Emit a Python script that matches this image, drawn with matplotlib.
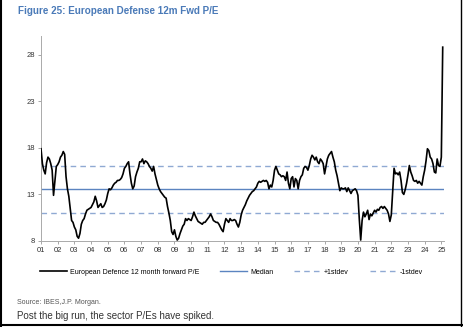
import matplotlib
matplotlib.use("Agg")
import matplotlib.pyplot as plt
from matplotlib.lines import Line2D
import numpy as np

plt.rcParams['font.family'] = ['Liberation Sans', 'DejaVu Sans']

# monthly 12m fwd P/E, Jan 2001 .. Feb 2025
pe_2001 = [17.9, 16.3, 15.6, 15.2, 16.4, 17.0, 16.8, 16.3, 15.6, 12.9, 14.5, 16.0]
pe_2002 = [16.2, 16.5, 17.0, 17.2, 17.6, 17.3, 14.9, 13.6, 12.8, 11.5, 10.2, 10.0]
pe_2003 = [9.5, 9.2, 8.5, 8.3, 8.8, 9.8, 10.2, 10.4, 10.9, 11.3, 11.4, 11.5]
pe_2004 = [11.6, 11.9, 12.2, 12.8, 12.3, 11.6, 11.8, 12.0, 11.6, 11.7, 12.0, 12.4]
pe_2005 = [13.1, 13.6, 13.5, 13.7, 14.0, 14.2, 14.3, 14.5, 14.5, 14.6, 14.8, 15.2]
pe_2006 = [15.8, 16.0, 16.3, 16.5, 15.2, 14.2, 13.6, 13.9, 14.9, 15.4, 15.8, 16.5]
pe_2007 = [16.5, 16.8, 16.3, 16.6, 16.5, 16.3, 16.0, 15.8, 15.5, 16.0, 15.2, 14.6]
pe_2008 = [14.0, 13.6, 13.3, 13.1, 12.9, 12.7, 12.6, 11.7, 11.0, 10.2, 9.0, 8.7]
pe_2009 = [9.2, 8.5, 8.1, 8.3, 8.8, 9.2, 9.6, 9.8, 10.4, 10.2, 10.4, 10.3]
pe_2010 = [10.2, 10.6, 11.1, 10.7, 10.4, 10.1, 10.0, 9.9, 9.8, 10.0, 10.0, 10.2]
pe_2011 = [10.4, 10.6, 10.9, 10.6, 10.2, 10.1, 10.0, 10.0, 9.8, 9.5, 9.2, 9.0]
pe_2012 = [9.8, 10.4, 10.2, 10.0, 10.4, 10.2, 10.2, 10.3, 10.2, 9.8, 9.5, 10.0]
pe_2013 = [10.8, 11.3, 11.6, 11.9, 12.3, 12.6, 12.9, 13.1, 13.3, 13.4, 13.6, 13.8]
pe_2014 = [14.2, 14.4, 14.3, 14.4, 14.5, 14.4, 14.5, 14.3, 13.6, 14.0, 13.8, 14.5]
pe_2015 = [15.6, 16.0, 15.6, 15.2, 15.1, 14.9, 15.0, 14.9, 14.5, 15.4, 14.2, 13.6]
pe_2016 = [14.7, 14.9, 13.8, 14.7, 14.5, 13.6, 14.5, 14.9, 15.1, 15.8, 16.0, 15.9]
pe_2017 = [15.6, 16.1, 16.8, 17.2, 17.0, 16.7, 17.0, 16.5, 16.3, 16.8, 16.6, 16.3]
pe_2018 = [15.2, 16.0, 16.8, 17.2, 17.4, 17.6, 17.0, 16.5, 15.6, 15.0, 14.2, 13.4]
pe_2019 = [13.7, 13.6, 13.6, 13.7, 13.3, 13.7, 13.4, 13.1, 13.4, 13.5, 13.6, 13.4]
pe_2020 = [12.9, 10.3, 8.1, 10.2, 11.1, 10.6, 10.9, 11.3, 10.3, 10.9, 10.7, 11.0]
pe_2021 = [11.3, 11.1, 11.4, 11.3, 11.6, 11.7, 11.5, 11.7, 11.5, 11.3, 10.9, 10.1]
pe_2022 = [10.8, 13.4, 15.8, 15.2, 15.3, 15.1, 15.4, 14.5, 13.2, 13.0, 13.5, 14.2]
pe_2023 = [15.1, 16.1, 15.4, 15.0, 14.5, 14.4, 14.5, 14.2, 14.4, 14.2, 14.0, 14.9]
pe_2024 = [15.6, 16.6, 17.9, 17.7, 17.0, 16.8, 16.3, 15.4, 15.3, 16.8, 16.1, 16.0]
pe_2025 = [17.0, 28.8]

median = 13.6
plus_1sd = 16.1
minus_1sd = 11.0

year_labels = ["%02d" % y for y in range(1, 26)]

pe = np.array(pe_2001 + pe_2002 + pe_2003 + pe_2004 + pe_2005 + pe_2006 + pe_2007 +
              pe_2008 + pe_2009 + pe_2010 + pe_2011 + pe_2012 + pe_2013 + pe_2014 +
              pe_2015 + pe_2016 + pe_2017 + pe_2018 + pe_2019 + pe_2020 + pe_2021 +
              pe_2022 + pe_2023 + pe_2024 + pe_2025)
t = 2001 + np.arange(len(pe)) / 12.0

fig = plt.figure(figsize=(4.63, 3.27), dpi=100)
ax = fig.add_axes([0.0886, 0.263, 0.870, 0.627])

blue = "#5b84c0"
dash_blue = "#8fa9d3"

ax.plot(t, pe, color="black", lw=1.2, zorder=3)
ax.axhline(median, color=blue, lw=1.0, zorder=2)
ax.axhline(plus_1sd, color=dash_blue, lw=1.0, ls=(0, (4, 3)), zorder=2)
ax.axhline(minus_1sd, color=dash_blue, lw=1.0, ls=(0, (4, 3)), zorder=2)

ax.set_xlim(2001, 2025.15)
ax.set_ylim(8, 30)
ax.set_yticks([8, 13, 18, 23, 28])
ax.set_xticks(np.arange(2001, 2026))
ax.set_xticklabels(year_labels)
ax.tick_params(labelsize=5.5, colors="#333333", length=2.5, width=0.6, pad=2)
ax.tick_params(axis="both", color="#999999")
for s in ["top", "right"]:
    ax.spines[s].set_visible(False)
for s in ["left", "bottom"]:
    ax.spines[s].set_color("#aaaaaa")
    ax.spines[s].set_linewidth(0.7)

handles = [Line2D([], [], color="black", lw=1.2),
           Line2D([], [], color=blue, lw=1.0),
           Line2D([], [], color=dash_blue, lw=1.0, ls=(0, (4, 3))),
           Line2D([], [], color=dash_blue, lw=1.0, ls=(0, (4, 3)))]
labels = ["European Defence 12 month forward P/E", "Median", "+1stdev", "-1stdev"]
fig.legend(handles, labels, loc="center", bbox_to_anchor=(0.5, 1 - 272 / 327), ncol=4,
           frameon=False, fontsize=5.0, handlelength=3.9, columnspacing=3.0, handletextpad=0.4)

fig.text(18 / 463, 1 - 11 / 327, "Figure 25: European Defense 12m Fwd P/E", color="#4a7ab8",
         fontsize=7.1, fontweight="bold", va="center", ha="left")
fig.text(17 / 463, 1 - 303 / 327, "Source: IBES,J.P. Morgan.", color="#555555",
         fontsize=5, va="center", ha="left")
fig.text(17 / 463, 1 - 316 / 327, "Post the big run, the sector P/Es have spiked.", color="#333333",
         fontsize=7, va="center", ha="left")

# border round the picture
fig.add_artist(Line2D([0.002, 0.002], [0, 1], color="black", lw=1.5, transform=fig.transFigure))
fig.add_artist(Line2D([0.995, 0.995], [0, 1], color="black", lw=1.0, transform=fig.transFigure))
fig.add_artist(Line2D([0, 1], [0.005, 0.005], color="black", lw=1.5, transform=fig.transFigure))

fig.savefig("out.png", dpi=100)
